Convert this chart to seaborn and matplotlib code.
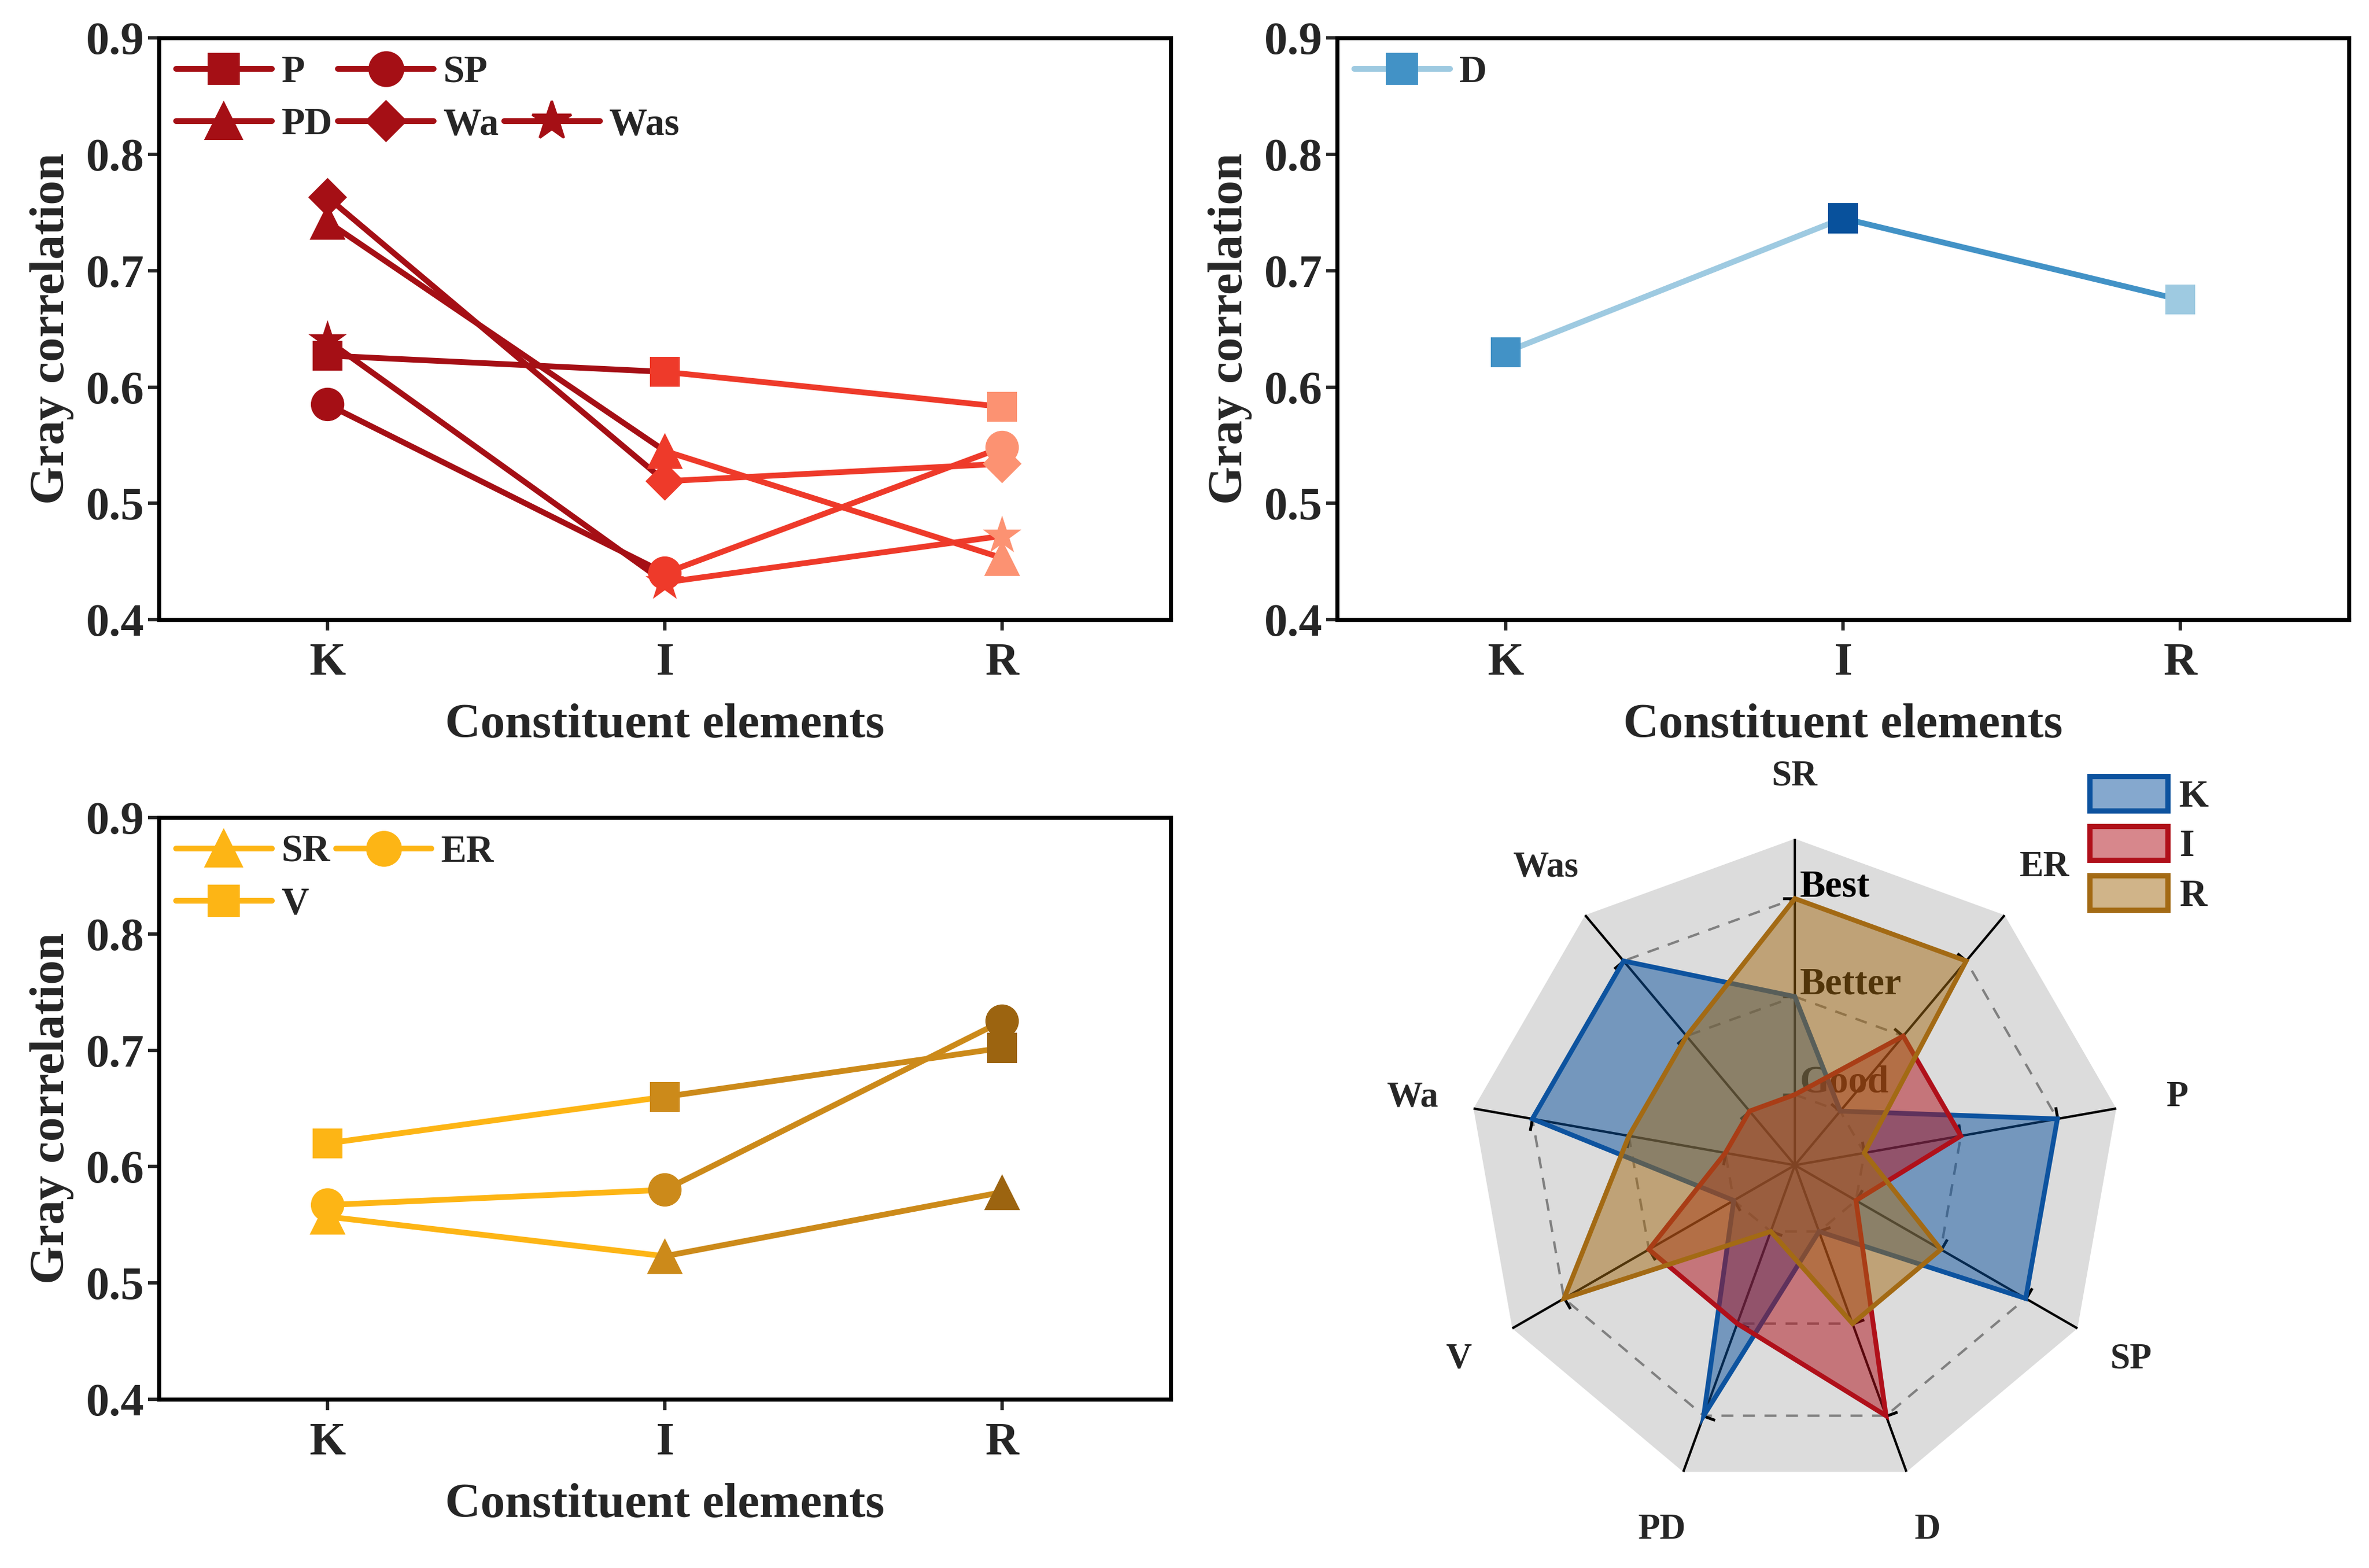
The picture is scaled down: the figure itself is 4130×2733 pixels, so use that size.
import numpy as np
import pandas as pd
import matplotlib
matplotlib.use("Agg")
import matplotlib.pyplot as plt
import seaborn as sns
from matplotlib.lines import Line2D
from matplotlib.patches import Patch
from matplotlib.markers import MarkerStyle
from matplotlib.path import Path
from matplotlib.transforms import Affine2D
from matplotlib.colors import to_rgba

# ---- data ----
elements = ["K", "I", "R"]
x_pos = [0, 1, 2]

# top left panel
P_vals = [0.627, 0.613, 0.583]
SP_vals = [0.585, 0.440, 0.548]
PD_vals = [0.742, 0.545, 0.453]
Wa_vals = [0.763, 0.519, 0.534]
Was_vals = [0.640, 0.432, 0.472]

# top right panel
D_vals = [0.630, 0.745, 0.675]

# bottom left panel
SR_vals = [0.557, 0.523, 0.578]
ER_vals = [0.567, 0.580, 0.725]
V_vals = [0.620, 0.660, 0.702]

# radar: rank of each element per index (1 = Good, 2 = Better, 3 = Best)
radar_axes = ["SR", "ER", "P", "SP", "D", "PD", "V", "Wa", "Was"]
K_rank = [2, 1, 3, 3, 1, 3, 1, 3, 3]
I_rank = [1, 2, 2, 1, 3, 2, 2, 1, 1]
R_rank = [3, 3, 1, 2, 2, 1, 3, 2, 2]
rank_labels = ["Good", "Better", "Best"]
rank_levels = [1, 2, 3]

sns.set_theme(style="ticks")
plt.rcParams["font.family"] = ["Liberation Serif", "DejaVu Serif"]
plt.rcParams["font.weight"] = "bold"
plt.rcParams["axes.labelweight"] = "bold"

fig = plt.figure(figsize=(4130 / 300, 2733 / 300), dpi=300)


def line_panel(ax, names, values, markers, sizes, pt_colors, seg_colors,
               leg_line, leg_marker, leg_order, ncol):
    for name in names:
        df = pd.DataFrame({"pos": x_pos, "val": values[name], "el": elements})
        for i in range(2):
            sns.lineplot(data=df.iloc[i:i + 2], x="pos", y="val",
                         color=seg_colors[i], lw=2.4, ax=ax, legend=False,
                         zorder=2)
        sns.scatterplot(data=df, x="pos", y="val", hue="el",
                        palette=dict(zip(elements, pt_colors)),
                        marker=markers[name], s=sizes[name] ** 2,
                        linewidth=0, ax=ax, legend=False, zorder=3)

    ax.set_xlim(-0.5, 2.5)
    ax.set_ylim(0.4, 0.9)
    ax.set_xticks(x_pos)
    ax.set_xticklabels(elements)
    ax.set_yticks([0.4, 0.5, 0.6, 0.7, 0.8, 0.9])
    ax.set_yticklabels(["0.4", "0.5", "0.6", "0.7", "0.8", "0.9"])
    ax.tick_params(axis="x", labelsize=19.5, length=4.5, width=1.4, pad=5)
    ax.tick_params(axis="y", labelsize=19.5, length=4.5, width=1.4, pad=1.5)
    for sp in ax.spines.values():
        sp.set_linewidth(1.7)
        sp.set_color("black")
    ax.set_xlabel("Constituent elements", fontsize=20.5, labelpad=8)
    ax.set_ylabel("Gray correlation", fontsize=20.5, labelpad=5)

    handles, labels = [], []
    for name in leg_order:
        if name is None:
            handles.append(Line2D([], [], color="none"))
            labels.append("")
        else:
            handles.append(Line2D([], [], color=leg_line, lw=2.4,
                                  marker=markers[name], ms=sizes[name],
                                  mfc=leg_marker, mec=leg_marker))
            labels.append(name)
    ax.legend(handles, labels, ncol=ncol, loc="upper left", frameon=False,
              fontsize=16, handlelength=2.5, handletextpad=0.25,
              columnspacing=0.15, labelspacing=0.45, borderpad=0.25,
              borderaxespad=0.2)


# top left
ax1 = fig.add_axes([0.0671, 0.6048, 0.4271, 0.3710])
line_panel(ax1, ["P", "SP", "PD", "Wa", "Was"],
           {"P": P_vals, "SP": SP_vals, "PD": PD_vals, "Wa": Wa_vals, "Was": Was_vals},
           {"P": "s", "SP": "o", "PD": "^", "Wa": "D", "Was": "*"},
           {"P": 12.5, "SP": 14, "PD": 15, "Wa": 11.5, "Was": 17},
           ["#A50F15", "#EE3A2A", "#FC9272"], ["#A50F15", "#EE3A2A"],
           "#A50F15", "#A50F15", ["P", "PD", "SP", "Wa", None, "Was"], 3)

# top right
ax2 = fig.add_axes([0.5644, 0.6048, 0.4271, 0.3710])
line_panel(ax2, ["D"], {"D": D_vals}, {"D": "s"}, {"D": 12.5},
           ["#4292C6", "#08519C", "#9ECAE1"], ["#9ECAE1", "#4292C6"],
           "#9ECAE1", "#4292C6", ["D"], 1)

# bottom left
ax3 = fig.add_axes([0.0671, 0.1076, 0.4271, 0.3710])
line_panel(ax3, ["SR", "ER", "V"],
           {"SR": SR_vals, "ER": ER_vals, "V": V_vals},
           {"SR": "^", "ER": "o", "V": "s"},
           {"SR": 15, "ER": 14, "V": 12.5},
           ["#FDB515", "#CC8A1A", "#9C6410"], ["#FDB515", "#CC8A1A"],
           "#FDB515", "#FDB515", ["SR", "V", "ER"], 2)

# radar chart
axr = fig.add_axes([0.6199, 0.0487, 0.2755, 0.4164], projection="polar")
axr.set_theta_offset(np.pi / 2)
axr.set_theta_direction(-1)
r0, rmax = 0.28, 3.61
axr.set_ylim(r0, rmax)
axr.set_axis_off()

theta = np.linspace(0, 2 * np.pi, len(radar_axes), endpoint=False)
theta_c = np.append(theta, theta[0])

axr.fill(theta_c, [rmax] * len(theta_c), color="#DCDCDC", lw=0, zorder=0)
for lev in rank_levels:
    axr.plot(theta_c, [lev] * len(theta_c), color="#808080", lw=1.0,
             ls=(0, (5, 4)), zorder=1)
for t in theta:
    axr.plot([t, t], [r0, rmax], color="black", lw=1.0, zorder=2)
    ang = 180 - np.degrees(t)
    tick = MarkerStyle(Path([(0, 0), (1, 0)]),
                       transform=Affine2D().rotate_deg(ang))
    axr.plot([t] * 3, rank_levels, ls="none", marker=tick, ms=10,
             mec="black", mew=1.2, zorder=2)

for lab, lev in zip(rank_labels, rank_levels):
    axr.annotate(lab, xy=(0, lev), xytext=(2, 1), textcoords="offset points",
                 ha="left", va="baseline", fontsize=16, color="black",
                 zorder=2)

label_r = r0 + 1.19 * (rmax - r0)
for t, name in zip(theta, radar_axes):
    axr.text(t, label_r, name, ha="center", va="center", fontsize=15,
             clip_on=False)

radar_sets = [("K", K_rank, "#0D539F"), ("I", I_rank, "#B0101A"),
              ("R", R_rank, "#A36A14")]
for name, ranks, col in radar_sets:
    vals = list(ranks) + [ranks[0]]
    axr.fill(theta_c, vals, facecolor=to_rgba(col, 0.5), edgecolor=col,
             lw=2.0, zorder=3)

leg_handles = [Patch(facecolor=to_rgba(c, 0.5), edgecolor=c, lw=2.2)
               for _, _, c in radar_sets]
fig.legend(leg_handles, [n for n, _, _ in radar_sets], loc="upper left",
           bbox_to_anchor=(0.882, 0.505), frameon=False, fontsize=16,
           handlelength=2.05, handleheight=1.0, labelspacing=0.3,
           handletextpad=0.3, borderpad=0, borderaxespad=0)

fig.savefig("out.png", dpi=300)
